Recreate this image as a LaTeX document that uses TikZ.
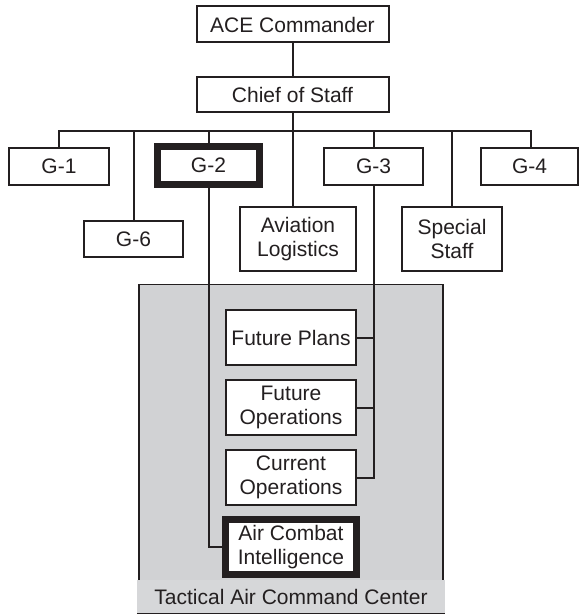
\documentclass[tikz,border=0pt]{standalone}
\usepackage{fontspec}
\setmainfont{Liberation Sans}
\definecolor{ink}{RGB}{35,31,32}
\definecolor{tacgray}{RGB}{209,210,212}
\definecolor{bandgray}{RGB}{214,215,217}
\begin{document}
\begin{tikzpicture}[x=1pt,y=-1pt,
  box/.style={draw=ink,line width=2pt,fill=white,inner sep=0pt,align=center,
    text=ink,font=\fontsize{21}{24}\selectfont},
  thickbox/.style={box,line width=7pt},
  conn/.style={draw=ink,line width=2pt}]
\useasboundingbox (0,0) rectangle (579,615);
% Tactical Air Command Center area
\path[fill=tacgray,draw=ink,line width=1.5pt] (139,580) -- (139,284.5) -- (443,284.5) -- (443,580);
\node[fill=bandgray,minimum width=308pt,minimum height=33pt,inner sep=0pt,text=ink,
  font=\fontsize{21}{24}\selectfont] (tacc) at (291,596.5) {Tactical Air Command Center};
\draw[ink,line width=1pt] (tacc.south west) -- (tacc.south east);
% nodes
\node[box,minimum width=192pt,minimum height=36pt] (ace) at (292.5,24.5) {ACE Commander};
\node[box,minimum width=192pt,minimum height=35pt] (cos) at (292.5,94.5) {Chief of Staff};
\node[box,minimum width=100pt,minimum height=37pt] (g1) at (59,166.5) {G-1};
\node[thickbox,minimum width=102pt,minimum height=38pt] (g2) at (208.5,165.5) {G-2};
\node[box,minimum width=99pt,minimum height=37pt] (g3) at (373.5,166.5) {G-3};
\node[box,minimum width=97pt,minimum height=37pt] (g4) at (529.5,166.5) {G-4};
\node[box,minimum width=99pt,minimum height=36pt] (g6) at (133.5,239) {G-6};
\node[box,minimum width=116pt,minimum height=64pt] (avl) at (298,239) {Aviation\\Logistics};
\node[box,minimum width=100pt,minimum height=64pt] (spc) at (452,239) {Special\\Staff};
\node[box,minimum width=130pt,minimum height=55pt] (fp) at (291,337.5) {Future Plans};
\node[box,minimum width=130pt,minimum height=55pt] (fo) at (291,407.5) {Future\\Operations};
\node[box,minimum width=130pt,minimum height=55pt] (co) at (291,477.5) {Current\\Operations};
\node[thickbox,minimum width=131pt,minimum height=55pt] (aci) at (291,547) {Air Combat\\Intelligence};
% bus coordinates
\coordinate (bL) at (59,131);
\coordinate (bR) at (531,131);
\coordinate (bC) at (292,131);
% connectors
\draw[conn] (ace.south) -- (cos.north);
\draw[conn] (cos.south) -- (cos.south |- avl.north);
\draw[conn] (g1.north) -- (bL) -- (bR) -- (bR |- g4.north);
\draw[conn] (g6.north |- bL) -- (g6.north);
\draw[conn] (g2.north |- bL) -- (g2.north);
\draw[conn] (g3.north |- bL) -- (g3.north);
\draw[conn] (spc.north |- bL) -- (spc.north);
\draw[conn] (g2.south) -- (g2.south |- aci.west) -- (aci.west);
\draw[conn] (g3.south) -- (g3.south |- co.east) -- (co.east);
\draw[conn] (fp.east) -- (fp.east -| g3.south);
\draw[conn] (fo.east) -- (fo.east -| g3.south);
\end{tikzpicture}
\end{document}
